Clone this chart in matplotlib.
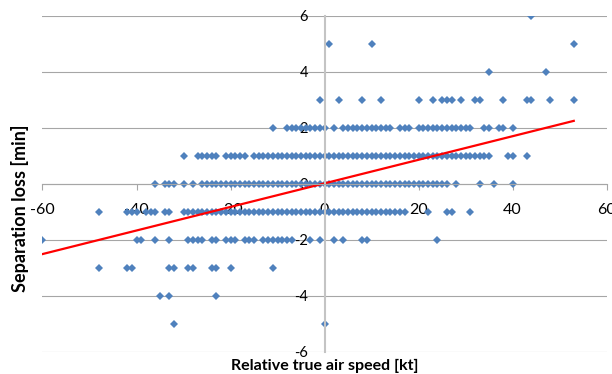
import numpy as np
import matplotlib.pyplot as plt

# relative true air speed [kt] of each encounter, grouped by separation loss [min]
speed_loss_6 = [44]
speed_loss_5 = [1, 10, 53]
speed_loss_4 = [35, 47]
speed_loss_3 = [-1, 3, 8, 12, 20, 23, 25, 26, 27, 29, 32, 33, 38, 43, 44, 48, 53]
speed_loss_2 = [-11, -8, -7, -6, -5, -4, -3, -2, -1, 0, 2,
                4, 5, 6, 7, 8, 9, 10, 11, 12, 13, 14, 16, 17, 18,
                20, 21, 22, 23, 24, 25, 26, 27, 28, 29, 30, 31, 34, 35, 37, 38, 40]
speed_loss_1 = [-30, -27, -26, -25, -24, -23, -21, -20, -19, -18, -17,
                -15, -14, -13, -12, -11, -10, -9, -8, -7, -6, -5, -4, -3, -2, -1,
                0, 1, 2, 3, 4, 5, 6, 7, 8, 9, 10, 11, 12, 13, 14, 15, 16, 17, 18,
                19, 20, 21, 22, 23, 24, 25, 26, 27, 28, 29, 30, 31, 32, 33, 34, 35,
                39, 40, 43]
speed_loss_0 = [-36, -34, -33, -32, -30, -28,
                -26, -25, -24, -23, -22, -21, -20, -19, -18, -17, -16, -15, -14,
                -13, -12, -11, -10, -9, -8, -7, -6, -5, -4, -3, -2, -1, 0, 1, 2,
                3, 4, 5, 6, 7, 8, 9, 10, 11, 12, 13, 14, 15, 16, 17, 18, 19, 20,
                21, 22, 23, 24, 25, 26, 28, 33, 36, 40]
speed_loss_m1 = [-48, -42, -41, -40, -38, -37, -36, -34, -33,
                 -30, -29, -28, -27, -26, -25, -24, -23, -22, -21, -20, -19, -18,
                 -17, -16, -15, -14, -13, -12, -11, -10, -9, -8, -7, -6, -5, -4,
                 -3, -2, -1, 0, 1, 2, 3, 4, 5, 6, 7, 8, 9, 10, 11, 12, 13, 14, 15,
                 16, 17, 22, 26, 27, 31]
speed_loss_m2 = [-60, -40, -39, -36, -33, -29, -28, -27, -26, -24, -23,
                 -21, -20, -19, -17, -16, -15, -13, -12, -11, -10, -9, -8, -7,
                 -3, -1, 2, 4, 8, 9, 24]
speed_loss_m3 = [-48, -42, -41, -33, -32, -29, -28, -24, -23, -20, -11]
speed_loss_m4 = [-35, -33, -23]
speed_loss_m5 = [-32, 0]

loss_levels = [6, 5, 4, 3, 2, 1, 0, -1, -2, -3, -4, -5]
speeds_by_level = [speed_loss_6, speed_loss_5, speed_loss_4, speed_loss_3,
                   speed_loss_2, speed_loss_1, speed_loss_0, speed_loss_m1,
                   speed_loss_m2, speed_loss_m3, speed_loss_m4, speed_loss_m5]

# linear trendline (Excel style)
TREND_SLOPE = 0.0421
TREND_INTERCEPT = 0.013

x_ticks = [-60, -40, -20, 0, 20, 40, 60]
y_ticks = [-6, -4, -2, 0, 2, 4, 6]

speed = np.concatenate([np.array(s, dtype=float) for s in speeds_by_level])
loss = np.concatenate([np.full(len(s), lvl, dtype=float)
                       for s, lvl in zip(speeds_by_level, loss_levels)])

plt.rcParams['font.family'] = ['Lato', 'DejaVu Sans']
plt.rcParams['axes.unicode_minus'] = False

fig = plt.figure(figsize=(6.12, 3.74), dpi=100)
ax = fig.add_axes([0.0694, 0.0596, 0.9219, 0.8984])

grid_col = '#a6a6a6'
for yv in y_ticks:
    ax.axhline(yv, color=grid_col, lw=0.8, zorder=1)

ax.plot(speed, loss, linestyle='none', marker='D', markersize=3.6,
        color='#4f81bd', markeredgewidth=0, zorder=2)

trend_x = np.array([speed.min(), speed.max()])
ax.plot(trend_x, TREND_INTERCEPT + TREND_SLOPE * trend_x, color='#ff0000',
        lw=1.6, zorder=2.2)

ax.set_xlim(-60, 60)
ax.set_ylim(-6, 6)
ax.set_xticks(x_ticks)
ax.set_yticks(y_ticks)

ax.spines['left'].set_position(('data', 0))
ax.spines['bottom'].set_position(('data', 0))
ax.spines['right'].set_visible(False)
ax.spines['top'].set_visible(False)
ax.spines['left'].set_color('#c4c4c4')
ax.spines['left'].set_linewidth(1.5)
ax.spines['bottom'].set_color(grid_col)
ax.spines['bottom'].set_linewidth(0.8)

ax.tick_params(axis='x', direction='out', length=4, width=0.8,
               color=grid_col, labelsize=11.5, pad=10)
ax.tick_params(axis='y', length=0, labelsize=10.5, pad=12)
ax.patch.set_visible(False)

fig.text(0.531, 0.002, 'Relative true air speed [kt]', ha='center',
         va='bottom', fontsize=11.5, fontweight='bold')
fig.text(0.033, 0.444, 'Separation loss [min]', ha='center', va='center',
         rotation=90, fontsize=13, fontweight='bold')

fig.savefig('out.png', dpi=100)
